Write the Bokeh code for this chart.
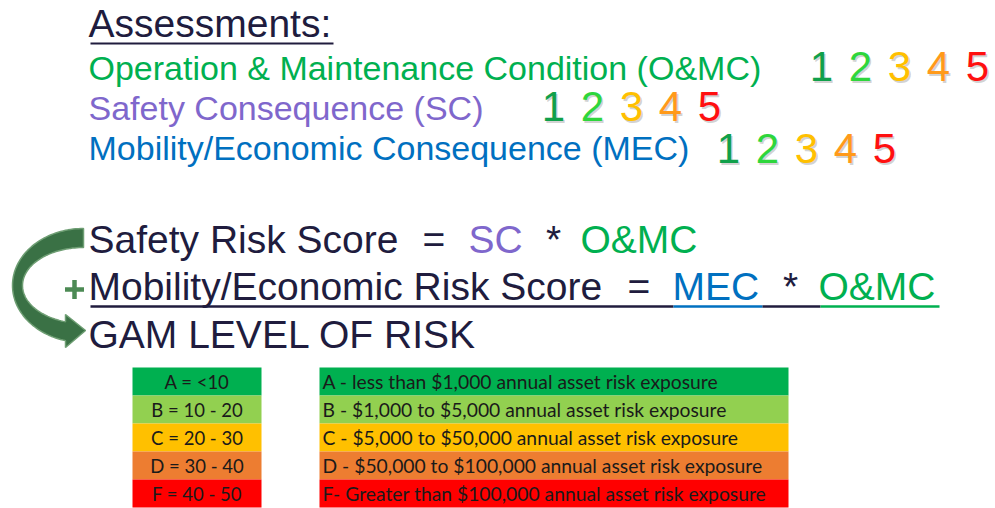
import numpy as np
from bokeh.plotting import figure
from bokeh.models import Range1d, ColumnDataSource
from bokeh.core.properties import value
from bokeh.embed import file_html
from bokeh.resources import INLINE

# ---------------- data ----------------
heading = "Assessments:"
assessment_names = ["Operation & Maintenance Condition (O&MC)",
                    "Safety Consequence (SC)",
                    "Mobility/Economic Consequence (MEC)"]
assessment_colors = ["#00B050", "#7F67CC", "#0070C0"]

scores = ["1", "2", "3", "4", "5"]
score_colors = ["#10A04A", "#2ED63C", "#FFC000", "#FF9A1A", "#FF1010"]

formula1 = ["Safety Risk Score", "=", "SC", "*", "O&MC"]
formula1_colors = ["#201C3E", "#201C3E", "#7F67CC", "#201C3E", "#00B050"]
formula2 = ["Mobility/Economic Risk Score", "=", "MEC", "*", "O&MC"]
formula2_colors = ["#201C3E", "#201C3E", "#0070C0", "#201C3E", "#00B050"]
result_label = "GAM LEVEL OF RISK"

grade_labels = ["A = <10", "B = 10 - 20", "C = 20 - 30", "D = 30 - 40", "F = 40 - 50"]
exposure_labels = ["A - less than $1,000 annual asset risk exposure",
                   "B - $1,000 to $5,000 annual asset risk exposure",
                   "C - $5,000 to $50,000 annual asset risk exposure",
                   "D - $50,000 to $100,000 annual asset risk exposure",
                   "F- Greater than $100,000 annual asset risk exposure"]
grade_colors = ["#00B050", "#92D050", "#FFC000", "#ED7D31", "#FF0000"]

# ---------------- layout ----------------
DARK = "#201C3E"
ARIAL = value("Liberation Sans")
TABLE_FONT = value("Lato")
K = 0.37  # empirical baseline correction (fraction of font size)


def base(y, size):
    return y - K * size


p = figure(width=995, height=508, output_backend="svg", toolbar_location=None,
           x_range=Range1d(0, 995), y_range=Range1d(508, 0), min_border=0,
           background_fill_color="white", border_fill_color="white")
p.axis.visible = False
p.grid.visible = False
p.outline_line_color = None

# heading
p.text(x=[88], y=[base(37, 39)], text=[heading], text_font=ARIAL, text_font_size="39px",
       text_color=DARK, text_baseline="alphabetic")
p.segment(x0=[90], y0=[43], x1=[333], y1=[43], line_color=DARK, line_width=2)

# assessment lines
assess_base = [80, 120, 160]
p.text(x=[88] * 3, y=[base(v, 34) for v in assess_base], text=assessment_names,
       text_font=ARIAL, text_font_size="34px", text_color=assessment_colors,
       text_baseline="alphabetic")

# score digits
digit_start = [821, 553, 728]
digit_base = [82, 122, 164]
step = 39
dx, dy, dt, dc = [], [], [], []
for r in range(3):
    for i, s in enumerate(scores):
        dx.append(digit_start[r] + i * step)
        dy.append(base(digit_base[r], 42))
        dt.append(s)
        dc.append(score_colors[i])
p.text(x=[v + 1.5 for v in dx], y=[v + 1.5 for v in dy], text=dt, text_font=ARIAL,
       text_font_size="42px", text_color="#808080", text_alpha=0.35,
       text_align="center", text_baseline="alphabetic")
p.text(x=dx, y=dy, text=dt, text_font=ARIAL, text_font_size="42px",
       text_color=dc, text_align="center", text_baseline="alphabetic")

# formulas
f1_x = [88, 422, 468, 553, 580]
f2_x = [88, 627, 672, 790, 818]
aligns = ["left", "left", "left", "center", "left"]
for texts, cols, xs, b in [(formula1, formula1_colors, f1_x, 253),
                           (formula2, formula2_colors, f2_x, 300)]:
    src = ColumnDataSource(dict(x=xs, y=[base(b, 39)] * 5, t=texts, c=cols, a=aligns))
    p.text(x="x", y="y", text="t", text_color="c", text_align="a", source=src,
           text_font=ARIAL, text_font_size="39px", text_baseline="alphabetic")

# underline of second formula (coloured per run)
p.segment(x0=[90, 673, 762, 820], y0=[306] * 4, x1=[673, 762, 820, 939], y1=[306] * 4,
          line_color=[DARK, "#0070C0", DARK, "#00B050"], line_width=2.5)

p.text(x=[88], y=[base(348, 39)], text=[result_label], text_font=ARIAL,
       text_font_size="39px", text_color=DARK, text_baseline="alphabetic")

# curved arrow
cx, cy = 83, 285
ro = (71, 57)
ri = (61, 38)
end_x = 65
th_o = np.arccos((end_x - cx) / ro[0])
th_i = np.arccos((end_x - cx) / ri[0])
to = np.linspace(np.radians(270), th_o, 80)
ti = np.linspace(th_i, np.radians(270), 80)
xs = list(cx + ro[0] * np.cos(to)) + [65, 85, 65] + list(cx + ri[0] * np.cos(ti))
ys = list(cy + ro[1] * np.sin(to)) + [347, 330, 314] + list(cy + ri[1] * np.sin(ti))
p.patch(xs, ys, fill_color="#3A7145", line_color="#6E9E73", line_width=1.5)

# plus sign
p.scatter(x=[74], y=[289], marker="cross", size=19, line_width=4.5,
          line_color="#4C8A54")

# tables
top0, row_h = 367, 28
tops = [top0 + i * row_h for i in range(5)]
bots = [t + row_h for t in tops]
p.quad(left=[132] * 5, right=[261] * 5, top=tops, bottom=bots,
       fill_color=grade_colors, line_color=None)
p.quad(left=[319] * 5, right=[788] * 5, top=tops, bottom=bots,
       fill_color=grade_colors, line_color=None)
TS_L = 18.5
TS_R = 19.3
p.text(x=[196.5] * 5, y=[base(t + 21, TS_L) for t in tops], text=grade_labels,
       text_font=TABLE_FONT, text_font_size=f"{TS_L}px", text_color="#1A1A1A",
       text_align="center", text_baseline="alphabetic")
p.text(x=[322] * 5, y=[base(t + 21, TS_R) for t in tops], text=exposure_labels,
       text_font=TABLE_FONT, text_font_size=f"{TS_R}px", text_color="#1A1A1A",
       text_baseline="alphabetic")

open("out.html", "w").write(file_html(p, INLINE))
